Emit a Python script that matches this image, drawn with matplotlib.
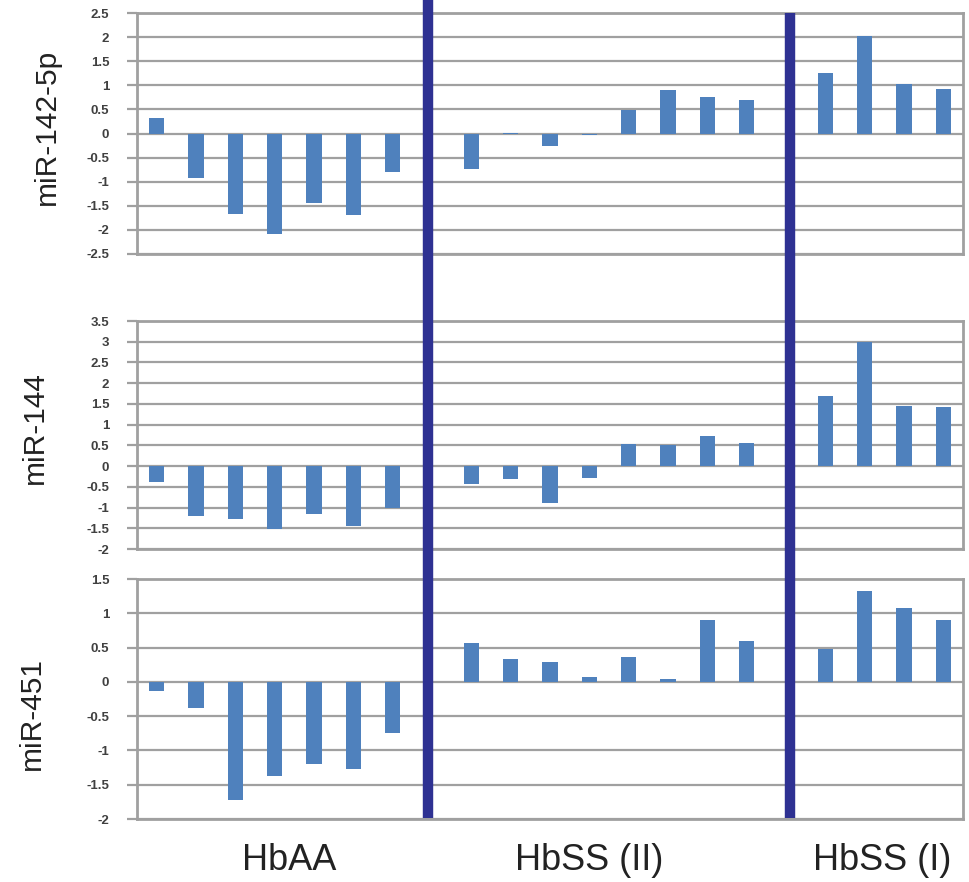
import matplotlib
matplotlib.use("Agg")
import matplotlib.pyplot as plt
from matplotlib.lines import Line2D
import numpy as np

plt.rcParams['font.family'] = ['Liberation Sans', 'DejaVu Sans']

# slots: 7 HbAA, gap, 8 HbSS (II), gap, 4 HbSS (I)
groups = ["HbAA", "HbSS (II)", "HbSS (I)"]
group_sizes = [7, 8, 4]

mir142 = [0.33, -0.92, -1.68, -2.08, -1.44, -1.69, -0.79,
          -0.74, 0.02, -0.26, -0.03, 0.49, 0.90, 0.75, 0.69,
          1.26, 2.03, 1.03, 0.93]
mir144 = [-0.39, -1.20, -1.27, -1.51, -1.16, -1.45, -1.01,
          -0.44, -0.32, -0.88, -0.29, 0.54, 0.51, 0.72, 0.56,
          1.70, 3.00, 1.44, 1.42]
mir451 = [-0.14, -0.38, -1.72, -1.38, -1.20, -1.27, -0.75,
          0.56, 0.33, 0.29, 0.07, 0.36, 0.04, 0.90, 0.59,
          0.48, 1.33, 1.08, 0.90]

panels = [("miR-142-5p", mir142, (-2.5, 2.5)),
          ("miR-144", mir144, (-2, 3.5)),
          ("miR-451", mir451, (-2, 1.5))]

# x positions with one empty slot between groups
xpos = []
start = 0
for n in group_sizes:
    xpos += list(range(start, start + n))
    start += n + 1
nslots = xpos[-1] + 1
# separator lines sit a little off the empty slot centres in the original
sep_x = [group_sizes[0] - 0.1, group_sizes[0] + group_sizes[1] + 1.1]

W, H = 969, 882
fig = plt.figure(figsize=(W / 100, H / 100), dpi=100)

left, right = 137 / W, 963 / W
boxes = [(13, 254), (321, 549), (579, 819)]   # top, bottom in pixels
lab_x = [47, 35, 32]
lab_y = [127, 428, 713]

grid_c = '#A0A0A0'
bar_c = '#4F81BD'
axes = []
for (name, vals, ylim), (t, b), lx, ly in zip(panels, boxes, lab_x, lab_y):
    ax = fig.add_axes([left, 1 - b / H, right - left, (b - t) / H])
    ax.bar(xpos, vals, width=0.39, color=bar_c, zorder=3)
    ax.set_xlim(-0.5, nslots - 0.5)
    ax.set_ylim(*ylim)
    ticks = np.arange(ylim[0], ylim[1] + 0.01, 0.5)
    ax.set_yticks(ticks)
    ax.set_yticklabels(['%g' % v for v in ticks])
    ax.set_xticks([])
    ax.grid(axis='y', color=grid_c, linewidth=1.6, zorder=0)
    for s in ax.spines.values():
        s.set_color(grid_c)
        s.set_linewidth(2)
    ax.tick_params(axis='y', length=7, width=1.6, color=grid_c, pad=13,
                   labelsize=9.5, labelcolor='#404040')
    for lbl in ax.get_yticklabels():
        lbl.set_fontweight('bold')
    fig.text(lx / W, 1 - ly / H, name, rotation=90, fontsize=21.5,
             ha='center', va='center', color='#222222')
    axes.append(ax)

# dark separator lines between the groups
sep_tops = [0, 13]
for sx, top in zip(sep_x, sep_tops):
    fx = left + (right - left) * (sx + 0.5) / nslots
    fig.add_artist(Line2D([fx, fx], [1 - top / H, 1 - 818 / H],
                          transform=fig.transFigure, color='#2E3192',
                          linewidth=7.5, solid_capstyle='butt', zorder=10))

# group labels under the bottom panel
group_x = [289, 589, 882]
for g, gx in zip(groups, group_x):
    fig.text(gx / W, 1 - 860 / H, g, fontsize=26, ha='center', va='center',
             color='#222222')

fig.savefig("out.png", dpi=100)
